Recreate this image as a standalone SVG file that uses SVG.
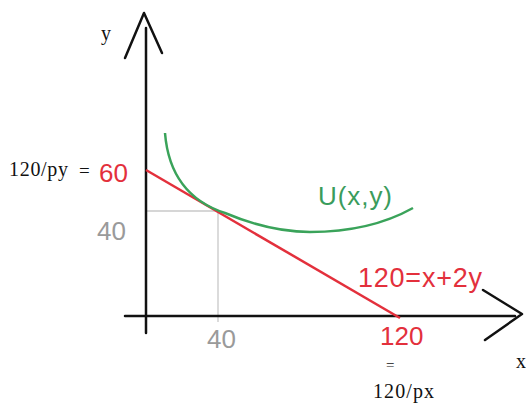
<svg xmlns="http://www.w3.org/2000/svg" width="526" height="410" viewBox="0 0 526 410">
<style>
.ax{stroke:#111;stroke-width:2.5;fill:none;stroke-linecap:round;stroke-linejoin:round}
.grid{stroke:#c8c8c8;stroke-width:1.3;fill:none}
.serif{font-family:"Liberation Serif",serif;fill:#111}
.sans{font-family:"Liberation Sans",sans-serif}
.red{fill:#e3303c}
.gray{fill:#9a9a9a}
.green{fill:#3a9c5c}
</style>
<rect width="526" height="410" fill="#fff"/>
<g id="grid">
<line class="grid" x1="146" y1="211" x2="218" y2="211"/>
<line class="grid" x1="218" y1="211" x2="218" y2="322"/>
</g>
<g id="axes">
<line class="ax" x1="146" y1="28" x2="146" y2="333"/>
<polyline class="ax" points="125,58 144,13 162,53"/>
<line class="ax" x1="125" y1="316" x2="515" y2="316"/>
<polyline class="ax" points="483,290 522,314 485,340"/>
</g>
<g id="connectors">
<line x1="146" y1="170" x2="400" y2="318" stroke="#e3303c" stroke-width="2.5"/>
<path d="M165,133 Q170,195 225,213 Q270,232 310,232 Q370,232 413,208" stroke="#3aa35a" stroke-width="2.5" fill="none"/>
</g>
<g id="labels">
<text class="serif" x="101" y="40" font-size="20">y</text>
<text class="serif" x="516" y="368" font-size="20">x</text>
<text class="serif" x="9" y="176" font-size="20" textLength="59">120/py</text>
<text class="serif" x="79" y="177" font-size="19">=</text>
<text class="sans red" x="99" y="182" font-size="26">60</text>
<text class="sans gray" x="97" y="240" font-size="26">40</text>
<text class="sans gray" x="207" y="348" font-size="26">40</text>
<text class="sans red" x="380" y="345" font-size="26">120</text>
<text class="serif" x="386" y="370" font-size="15">=</text>
<text class="serif" x="373" y="398" font-size="20" textLength="61">120/px</text>
<text class="sans green" x="318" y="205" font-size="26" textLength="74">U(x,y)</text>
<text class="sans red" x="358" y="287" font-size="27" textLength="124">120=x+2y</text>
</g>
</svg>
